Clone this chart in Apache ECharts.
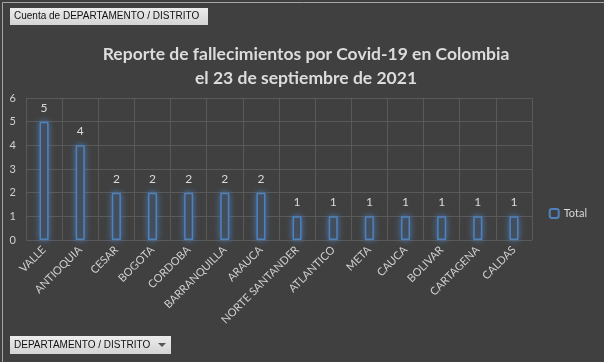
<!DOCTYPE html>
<html><head><meta charset="utf-8">
<script src="https://cdn.jsdelivr.net/npm/echarts@6/dist/echarts.min.js"></script>
<style>html,body{margin:0;padding:0;background:#404040;}#c{width:604px;height:362px;}</style>
</head><body><div id="c"></div>
<script>
const categories = ['VALLE','ANTIOQUIA','CESAR','BOGOTA','CORDOBA','BARRANQUILLA','ARAUCA','NORTE SANTANDER','ATLANTICO','META','CAUCA','BOLIVAR','CARTAGENA','CALDAS'];
const totals = [5,4,2,2,2,2,2,1,1,1,1,1,1,1];
const yTicks = [0,1,2,3,4,5,6];
const titleLines = ['Reporte de fallecimientos por Covid-19 en Colombia','el 23 de septiembre de 2021'];
const seriesName = 'Total';

const chart = echarts.init(document.getElementById('c'), null, {renderer:'canvas'});
const font = 'Lato, "Open Sans", sans-serif';
const btnFont = '"Liberation Sans", Arial, sans-serif';
chart.setOption({
  backgroundColor:'#404040',
  animation:false,
  title:{text:titleLines.join('\n'), left:301, top:37, textAlign:'center',
    textStyle:{color:'#dcdcdc', fontSize:17.5, fontWeight:'bold', fontFamily:font, lineHeight:24, align:'center'}},
  grid:{left:26, right:72, top:98, bottom:122},
  legend:{right:12, top:203, orient:'vertical', itemWidth:9, itemHeight:9, itemGap:4,
    textStyle:{color:'#d9d9d9', fontSize:11, fontFamily:font}, data:[seriesName]},
  xAxis:{type:'category', data:categories,
    axisLine:{show:false}, axisTick:{show:false},
    splitLine:{show:true, lineStyle:{color:'#595959', width:1}},
    axisLabel:{rotate:45, color:'#d0d0d0', fontSize:11, fontFamily:font, margin:8, interval:0}},
  yAxis:{type:'value', min:yTicks[0], max:yTicks[yTicks.length-1], interval:1,
    axisLine:{show:false}, axisTick:{show:false},
    splitLine:{lineStyle:{color:'#595959', width:1}},
    axisLabel:{color:'#d0d0d0', fontSize:11, fontFamily:font, margin:10}},
  series:[{name:seriesName, type:'bar', data:totals, barWidth:9,
    itemStyle:{color:'rgba(64,64,64,0.9)', borderColor:'#4f81bd', borderWidth:1.5,
      shadowBlur:6, shadowColor:'rgba(79,129,189,0.85)'},
    label:{show:true, position:'top', distance:8, color:'#d9d9d9', fontSize:12, fontFamily:font}}],
  graphic:[
    {type:'rect', left:0, top:0, shape:{width:603, height:361}, style:{fill:'none', stroke:'#a6a6a6', lineWidth:1}},
    {type:'rect', left:10, top:8, shape:{width:198, height:17},
      style:{fill:new echarts.graphic.LinearGradient(0,0,0,1,[{offset:0,color:'#ececec'},{offset:1,color:'#d4d4d4'}])}},
    {type:'text', left:14, top:11, style:{text:'Cuenta de DEPARTAMENTO / DISTRITO', fill:'#111', fontSize:10, fontFamily:btnFont}},
    {type:'rect', left:10, top:336, shape:{width:161, height:18},
      style:{fill:new echarts.graphic.LinearGradient(0,0,0,1,[{offset:0,color:'#ececec'},{offset:1,color:'#d4d4d4'}])}},
    {type:'text', left:14, top:340, style:{text:'DEPARTAMENTO / DISTRITO', fill:'#111', fontSize:10, fontFamily:btnFont}},
    {type:'polygon', shape:{points:[[158,343],[166,343],[162,347]]}, style:{fill:'#555'}}
  ]
});
</script></body></html>
